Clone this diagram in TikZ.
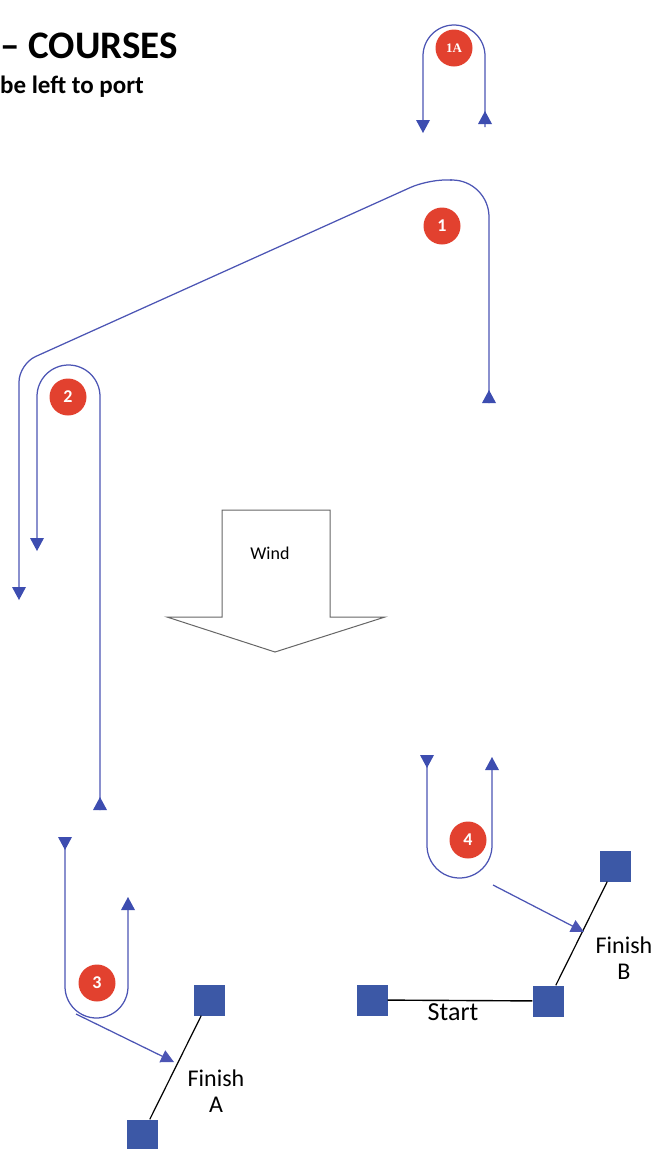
\documentclass[tikz,border=0pt]{standalone}
\usepackage{fontspec}
\setmainfont{Carlito}
\newfontfamily\serifmark{Liberation Serif}
\usetikzlibrary{arrows.meta}
\definecolor{lineblue}{HTML}{4C55B4}
\definecolor{triblue}{HTML}{3D4DB0}
\definecolor{sqblue}{HTML}{3C58A6}
\definecolor{markred}{HTML}{E2412F}
\newcommand\tridown[2]{\fill[triblue] (#1,#2) -- ++(-7,-13) -- ++(14,0) -- cycle;}
\newcommand\triup[2]{\fill[triblue] (#1,#2) -- ++(-7,13) -- ++(14,0) -- cycle;}
\begin{document}
\begin{tikzpicture}[x=1pt,y=-1pt,
  course/.style={draw=lineblue,line width=1.25pt},
  rmark/.style={circle,fill=markred,minimum size=37pt,inner sep=0pt,text=white,font=\fontsize{18}{18}\selectfont\bfseries},
  buoy/.style={rectangle,fill=sqblue,minimum size=31pt,inner sep=0pt},
  lbl/.style={font=\fontsize{24}{24}\selectfont,inner sep=0pt,align=center},
  tofinish/.style={course,-{Triangle[length=13pt,width=13pt]}},
  windarrow/.style={draw=gray!80!black,line width=1pt,fill=white}]
\useasboundingbox (0,0) rectangle (656,1149);
% title
\node[anchor=base east,inner sep=0pt,font=\fontsize{39}{39}\selectfont\bfseries] (title) at (178,58) {– COURSES};
\node[anchor=base west,inner sep=0pt,font=\fontsize{25}{25}\selectfont\bfseries] (subtitle) at (0,93) {be left to port};
% marks
\node[rmark,font=\fontsize{13}{13}\selectfont\bfseries\serifmark] (m1a) at (454,48) {1A};
\node[rmark] (m1) at (442,226) {1};
\node[rmark] (m2) at (68,397) {2};
\node[rmark] (m3) at (97,983) {3};
\node[rmark] (m4) at (468,840) {4};
% 1A loop
\draw[course,rounded corners=31pt] (423,122) -- (423,25) -- (485,25) -- (485,127);
\tridown{423}{133}
\triup{485}{111}
% mark 1 loop
\draw[course,rounded corners=18pt] (19,590) -- (19,364) -- (427,180) -- (452,180);
\draw[course,rounded corners=37pt] (450,180) -- (489,180) -- (489,403);
\triup{489}{390}
\tridown{19}{600}
% mark 2 loop
\draw[course,rounded corners=31.5pt] (37,540) -- (37,365) -- (100,365) -- (100,810);
\tridown{37}{551}
\triup{100}{797}
% mark 3 loop
\draw[course,rounded corners=31.5pt] (65,845) -- (65,1018) -- (128,1018) -- (128,908);
\tridown{65}{850}
\triup{128}{897}
\coordinate (a3s) at (76,1014);
% mark 4 loop
\draw[course,rounded corners=32.5pt] (427,765) -- (427,878) -- (492,878) -- (492,768);
\tridown{427}{768}
\triup{492}{757}
\coordinate (a4s) at (493,885);
% buoys
\node[buoy] (fa1) at (209,1000) {};
\node[buoy] (fa2) at (142,1135) {};
\node[buoy] (fb1) at (615,866) {};
\node[buoy] (fb2) at (548,1001) {};
\node[buoy] (s1) at (372,1000) {};
% lines
\draw[line width=1.2pt] (fa1) -- (fa2);
\draw[line width=1.2pt] (fb1) -- (fb2);
\draw[line width=1.4pt] (s1) -- (fb2);
\coordinate (a3e) at (174,1062);
\coordinate (a4e) at (584,932);
\draw[tofinish] (a3s) -- (a3e);
\draw[tofinish] (a4s) -- (a4e);
% labels
\node[lbl] (finA) at (216,1091) {Finish\\[2pt]A};
\node[lbl] (finB) at (624,958) {Finish\\[2pt]B};
\node[lbl,anchor=base,font=\fontsize{26}{26}\selectfont] (start) at (453,1020) {Start};
% wind
\draw[windarrow] (222,510) -- (330,510) -- (330,617) -- (385,617) -- (275,652) -- (167,617) -- (222,617) -- cycle;
\node[font=\fontsize{18}{18}\selectfont,inner sep=0pt] (wind) at (270,553) {Wind};
\end{tikzpicture}
\end{document}
